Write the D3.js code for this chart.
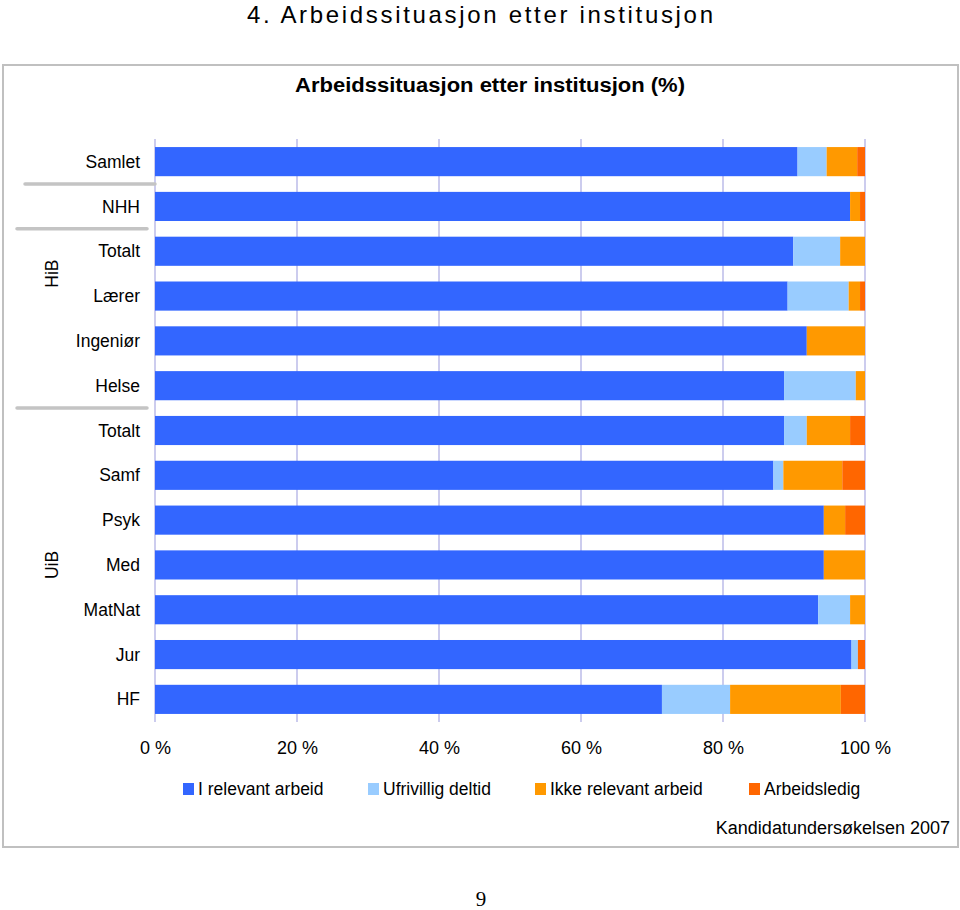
<!DOCTYPE html>
<html>
<head>
<meta charset="utf-8">
<script src="https://cdn.jsdelivr.net/npm/d3@7/dist/d3.min.js"></script>
<style>
  html, body { margin: 0; padding: 0; background: #fff; }
  svg { display: block; }
  text { font-family: "Liberation Sans", Arial, sans-serif; fill: #000; }
</style>
</head>
<body>
<svg id="chart" width="960" height="910"></svg>
<script>
// ---- Data ----
const categories = ["Samlet", "NHH", "Totalt", "Lærer", "Ingeniør", "Helse", "Totalt", "Samf", "Psyk", "Med", "MatNat", "Jur", "HF"];
const seriesNames = ["I relevant arbeid", "Ufrivillig deltid", "Ikke relevant arbeid", "Arbeidsledig"];
const relevant    = [90.5, 97.9, 89.9, 89.1, 91.8, 88.6, 88.6, 87.1, 94.2, 94.2, 93.4, 98.1, 71.4];
const ufrivillig  = [ 4.1,  0.0,  6.6,  8.6,  0.0, 10.1,  3.2,  1.4,  0.0,  0.0,  4.5,  0.9,  9.6];
const ikkeRelevant= [ 4.3,  1.4,  3.5,  1.6,  8.2,  1.3,  6.1,  8.3,  3.0,  5.8,  2.1,  0.0, 15.6];
const ledig       = [ 1.1,  0.7,  0.0,  0.7,  0.0,  0.0,  2.1,  3.2,  2.8,  0.0,  0.0,  1.0,  3.4];
const xTicks = [0, 20, 40, 60, 80, 100];
const xTickLabels = ["0 %", "20 %", "40 %", "60 %", "80 %", "100 %"];
const groups = [{name: "HiB", row: 2.5}, {name: "UiB", row: 9}];
const colors = ["#3366FF", "#99CCFF", "#FF9900", "#FF6600"];

const table = categories.map((c, i) => ({
  idx: i, cat: c,
  s0: relevant[i], s1: ufrivillig[i], s2: ikkeRelevant[i], s3: ledig[i]
}));

const svg = d3.select("#chart");

// Page title
svg.append("text").attr("x", 480).attr("y", 23)
  .attr("text-anchor", "middle")
  .style("font-size", "24px")
  .attr("textLength", 466).attr("lengthAdjust", "spacing")
  .text("4. Arbeidssituasjon etter institusjon");

// Frame
svg.append("rect").attr("x", 3).attr("y", 65).attr("width", 955).attr("height", 782)
  .attr("fill", "none").attr("stroke", "#c0c0c0").attr("stroke-width", 2);

// Chart title
svg.append("text").attr("x", 490).attr("y", 92)
  .attr("text-anchor", "middle")
  .style("font-size", "20px").style("font-weight", "bold")
  .attr("textLength", 390).attr("lengthAdjust", "spacingAndGlyphs")
  .text("Arbeidssituasjon etter institusjon (%)");

// Scales
const x = d3.scaleLinear().domain([0, 100]).range([155, 865]);
const y = d3.scaleBand().domain(d3.range(categories.length)).range([139, 722])
  .paddingInner(0.35).paddingOuter(0.18);

// Gridlines
svg.append("g").selectAll("line").data(xTicks).join("line")
  .attr("x1", d => x(d)).attr("x2", d => x(d))
  .attr("y1", 139).attr("y2", 722)
  .attr("stroke", "#ccccee").attr("stroke-width", 2);

// Stacked bars
const stack = d3.stack().keys(["s0", "s1", "s2", "s3"]);
const stacked = stack(table);
svg.append("g").selectAll("g").data(stacked).join("g")
  .attr("fill", (d, i) => colors[i])
  .selectAll("rect").data(d => d).join("rect")
  .attr("x", d => x(d[0]))
  .attr("width", d => Math.max(0, x(d[1]) - x(d[0])))
  .attr("y", d => y(d.data.idx))
  .attr("height", y.bandwidth());

// Category labels
svg.append("g").selectAll("text").data(table).join("text")
  .attr("x", 140).attr("y", d => y(d.idx) + y.bandwidth() / 2)
  .attr("dy", "0.35em").attr("text-anchor", "end")
  .style("font-size", "17.5px")
  .text(d => d.cat);

// Group separators
const sepData = [
  {y: (y(0) + y.bandwidth() + y(1)) / 2, x1: 25, x2: 155},
  {y: (y(1) + y.bandwidth() + y(2)) / 2, x1: 17, x2: 147},
  {y: (y(5) + y.bandwidth() + y(6)) / 2, x1: 17, x2: 147}
];
svg.append("g").selectAll("line").data(sepData).join("line")
  .attr("x1", d => d.x1).attr("x2", d => d.x2)
  .attr("y1", d => d.y).attr("y2", d => d.y)
  .attr("stroke", "#c4c4c4").attr("stroke-width", 3.5).attr("stroke-linecap", "round");

// Group labels
svg.append("g").selectAll("text").data(groups).join("text")
  .attr("transform", d => `translate(58, ${y(0) + d.row * y.step() + y.bandwidth() / 2}) rotate(-90)`)
  .attr("text-anchor", "middle")
  .style("font-size", "17.5px")
  .text(d => d.name);

// X axis labels
const xAxis = d3.axisBottom(x).tickValues(xTicks)
  .tickFormat((d, i) => xTickLabels[i]).tickSize(0).tickPadding(0);
const ax = svg.append("g").attr("transform", "translate(0, 737)").call(xAxis);
ax.select(".domain").remove();
ax.selectAll("text").style("font-size", "18px")
  .style("font-family", "'Liberation Sans', Arial, sans-serif").attr("fill", "#000")
  .attr("dy", "0.95em");

// Legend
const legendX = [183, 368, 535, 749];
const lg = svg.append("g").selectAll("g").data(seriesNames).join("g")
  .attr("transform", (d, i) => `translate(${legendX[i]}, 783)`);
lg.append("rect").attr("width", 11).attr("height", 12).attr("fill", (d, i) => colors[i]);
lg.append("text").attr("x", 15).attr("y", 6).attr("dy", "0.35em")
  .style("font-size", "17.5px").text(d => d);

// Source
svg.append("text").attr("x", 950).attr("y", 834).attr("text-anchor", "end")
  .style("font-size", "18px").text("Kandidatundersøkelsen 2007");

// Page number
svg.append("text").attr("x", 481).attr("y", 906).attr("text-anchor", "middle")
  .style("font-family", "'Liberation Serif', 'DejaVu Serif', serif").style("font-size", "21px")
  .text("9");
</script>
</body>
</html>
